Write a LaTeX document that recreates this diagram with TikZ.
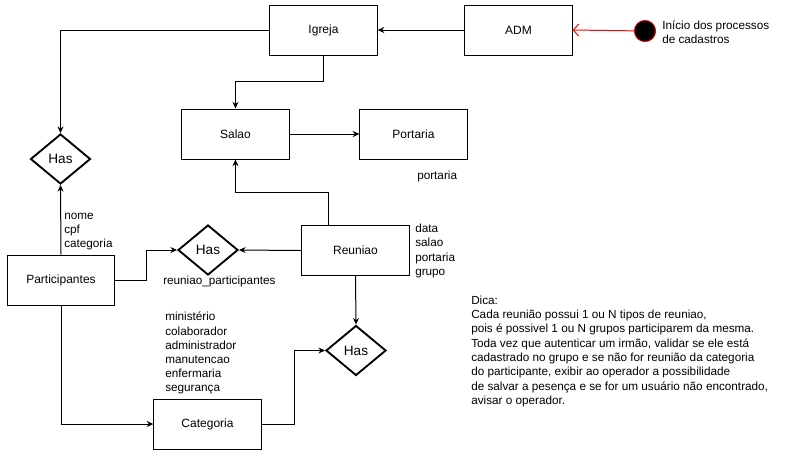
\documentclass[tikz,border=0pt]{standalone}
\usepackage{fontspec}
\setmainfont{Liberation Sans}
\usetikzlibrary{arrows.meta,shapes.geometric,calc}
\tikzset{
  ent/.style={draw, line width=0.75pt, minimum width=80.5pt, minimum height=37.5pt, inner sep=0pt, font=\fontsize{9}{11}\selectfont},
  rel/.style={draw, diamond, line width=1.4pt, minimum width=45pt, minimum height=37.5pt, inner sep=0pt, font=\fontsize{10.2}{12}\selectfont},
  lbl/.style={inner sep=0pt, align=left, anchor=north west, font=\fontsize{8.8}{10.6}\selectfont},
  conn/.style={line width=0.75pt, -{Stealth[length=5pt,width=4.5pt]}},
}
\begin{document}
\begin{tikzpicture}[x=0.75pt,y=-0.75pt]
\useasboundingbox (0,0) rectangle (796,455);
\node[ent] (igreja) at (323.5,30) {Igreja};
\node[ent] (adm) at (518.5,30) {ADM};
\node[circle, fill=black, draw=red, line width=0.6pt, minimum size=16pt, inner sep=0pt] (start) at (645,31) {};
\node[lbl, anchor=west] (startlbl) at (662,32) {Início dos processos\\de cadastros};
\node[ent] (salao) at (235.5,134) {Salao};
\node[ent] (portaria) at (413.5,134) {Portaria};
\node[lbl] (portlbl) at (417,171) {portaria};
\node[rel] (has1) at (60.5,159) {Has};
\node[ent] (part) at (61,280) {Participantes};
\node[lbl] (partlbl) at (64,213) {nome\\cpf\\categoria};
\node[rel] (has2) at (208,250) {Has};
\node[lbl] (has2lbl) at (163,276) {reuniao\_participantes};
\node[ent] (reuniao) at (355.5,250.5) {Reuniao};
\node[lbl] (reulbl) at (415,224) {data\\salao\\portaria\\grupo};
\node[rel] (has3) at (356,350.5) {Has};
\node[ent] (cat) at (207.5,424) {Categoria};
\node[lbl] (catlbl) at (165,312) {ministério\\colaborador\\administrador\\manutencao\\enfermaria\\segurança};
\node[lbl, font=\fontsize{8.8}{10.75}\selectfont] (dica) at (471,295.5) {Dica:\\Cada reunião possui 1 ou N tipos de reuniao,\\pois é possivel 1 ou N grupos participarem da mesma.\\Toda vez que autenticar um irmão, validar se ele está\\cadastrado no grupo e se não for reunião da categoria\\do participante, exibir ao operador a possibilidade\\de salvar a pesença e se for um usuário não encontrado,\\avisar o operador.};
\coordinate (c1) at (323.5,81);
\coordinate (c2) at (328,192);
\coordinate (c3) at (146,280);
\coordinate (c4) at (294,424);
\draw[line width=0.75pt, red, -{Straight Barb[length=4pt,width=9pt]}] (start) -- (adm.east);
\draw[conn] (adm.west) -- (igreja.east);
\draw[conn] (igreja.south) -- (c1) -| (salao.north);
\draw[conn] (igreja.west) -| (has1.north);
\draw[conn] (salao.east) -- (portaria.west);
\draw[conn] (c2 |- reuniao.north) -- (c2) -| (salao.south);
\draw[conn] (reuniao.west) -- (has2.east);
\draw[conn] (reuniao.south) -- (has3.north);
\draw[conn] (part.north) -- (has1.south);
\draw[conn] (part.east) -- (c3) |- (has2.west);
\draw[conn] (part.south) |- (cat.west);
\draw[conn] (cat.east) -- (c4) |- (has3.west);
\end{tikzpicture}
\end{document}
